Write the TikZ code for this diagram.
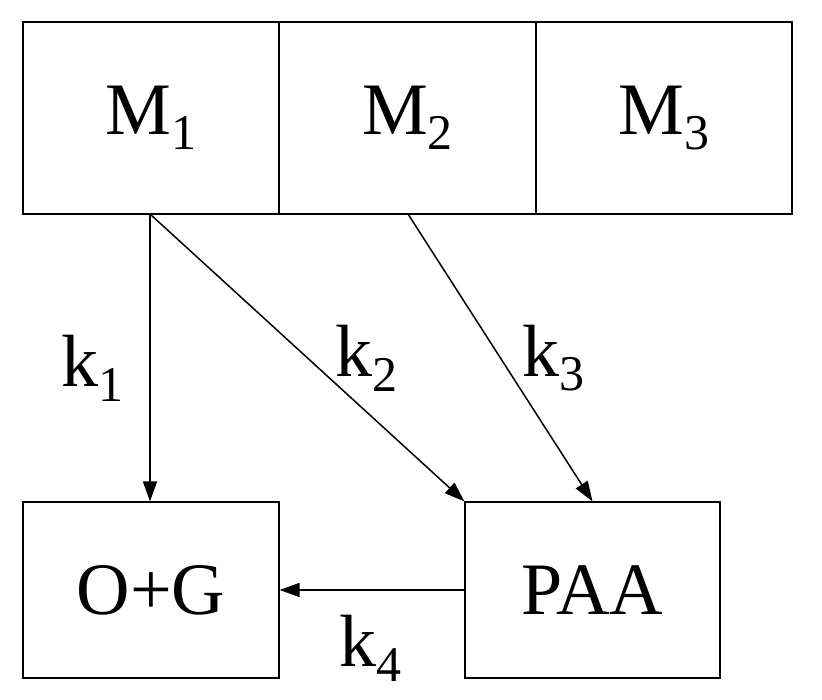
\documentclass[tikz,border=0pt]{standalone}
\usepackage{fontspec}
\setmainfont{Liberation Serif}
\usetikzlibrary{arrows.meta}
\newcommand{\sbs}[1]{\raisebox{-0.2em}{\fontsize{50}{50}\selectfont #1}}
\begin{document}
\begin{tikzpicture}[x=1pt,y=-1pt,
  box/.style={draw,line width=1.2pt,inner sep=0pt},
  lab/.style={font=\fontsize{74}{74}\selectfont},
  arr/.style={line width=1.5pt,-{Triangle[length=20pt,width=14pt]}}]
\useasboundingbox (0,0) rectangle (822,700);
\node[box,minimum width=256pt,minimum height=192pt,lab] (m1) at (151,118) {M\sbs{1}};
\node[box,minimum width=257pt,minimum height=192pt,lab] (m2) at (407.5,118) {M\sbs{2}};
\node[box,minimum width=256pt,minimum height=192pt,lab] (m3) at (664,118) {M\sbs{3}};
\node[box,minimum width=256pt,minimum height=176pt,lab] (og) at (151,590) {O+G};
\node[box,minimum width=255pt,minimum height=176pt,lab] (paa) at (592.5,590) {PAA};
\coordinate (a) at (150,214);
\coordinate (b) at (408,214);
\draw[arr] (a) -- (og.north -| a);
\draw[arr] (a) -- (paa.north west);
\draw[arr] (b) -- (paa.north);
\draw[arr] (paa.west) -- (og.east);
\node[lab] (k1) at (92,368) {k\sbs{1}};
\node[lab] (k2) at (366,358) {k\sbs{2}};
\node[lab] (k3) at (553,358) {k\sbs{3}};
\node[lab] (k4) at (370,648) {k\sbs{4}};
\end{tikzpicture}
\end{document}
